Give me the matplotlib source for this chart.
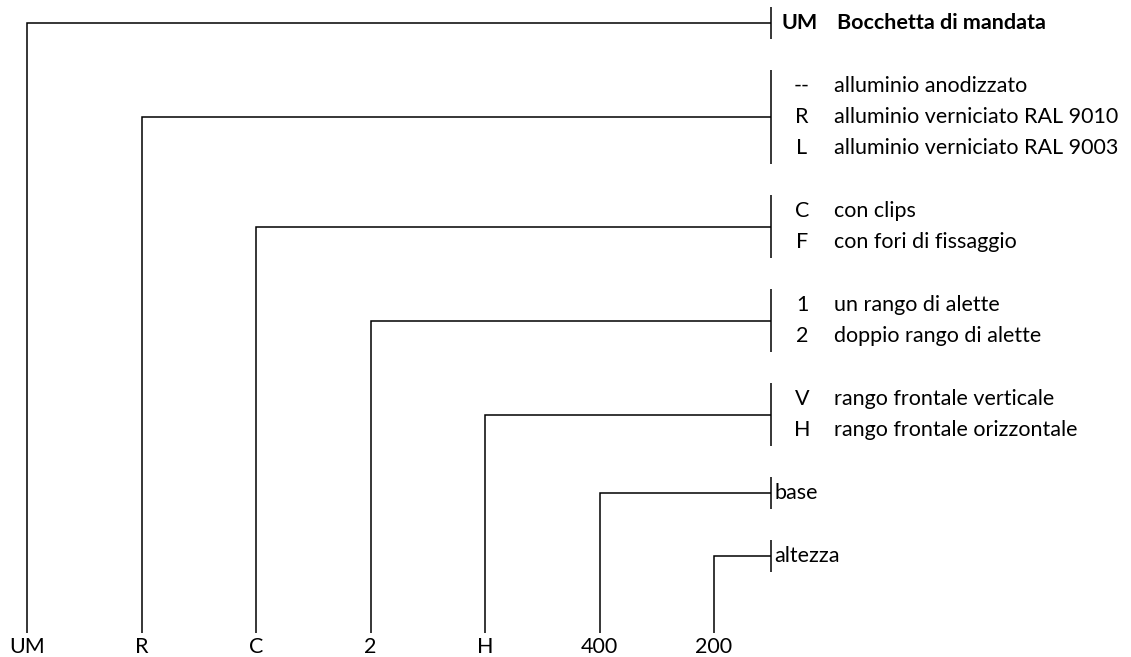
import matplotlib
matplotlib.use("Agg")
import matplotlib.pyplot as plt

# ---- data ----
selected_codes = ["UM", "R", "C", "2", "H", "400", "200"]
group_codes = [
    ["UM"],
    ["--", "R", "L"],
    ["C", "F"],
    ["1", "2"],
    ["V", "H"],
    [""],
    [""],
]
group_descriptions = [
    ["Bocchetta di mandata"],
    ["alluminio anodizzato", "alluminio verniciato RAL 9010", "alluminio verniciato RAL 9003"],
    ["con clips", "con fori di fissaggio"],
    ["un rango di alette", "doppio rango di alette"],
    ["rango frontale verticale", "rango frontale orizzontale"],
    ["base"],
    ["altezza"],
]

# ---- layout (pixel space) ----
W, H = 1131, 657
fig = plt.figure(figsize=(W / 100, H / 100), dpi=100)
ax = fig.add_axes([0, 0, 1, 1])
ax.set_xlim(0, W)
ax.set_ylim(H, 0)
ax.axis("off")

FONT = ["Lato", "DejaVu Sans"]

# fit font size so a reference string has the width seen in the original
renderer = fig.canvas.get_renderer()
probe = ax.text(0, 0, "con fori di fissaggio", fontsize=12, family=FONT)
wpx = probe.get_window_extent(renderer).width
probe.remove()
FS = 12 * 182.0 / wpx

stem_x0, stem_dx = 27, 114.5
stem_bottom = 633
bar_x = 771
code_x = 802
desc_x = 834
row_step = 31
group_gap = 63
half = 16
lw = 1.1

y = 23
for gi, (codes, descs) in enumerate(zip(group_codes, group_descriptions)):
    rows = []
    for ri in range(len(codes)):
        if ri > 0:
            y += row_step
        rows.append(y)
    mid = (rows[0] + rows[-1]) / 2
    sx = stem_x0 + gi * stem_dx
    ax.plot([sx, sx, bar_x], [stem_bottom, mid, mid], color="black", lw=lw,
            solid_joinstyle="miter", solid_capstyle="butt")
    ax.plot([bar_x, bar_x], [rows[0] - half, rows[-1] + half], color="black", lw=lw,
            solid_capstyle="butt")
    ax.text(sx, 647, selected_codes[gi], ha="center", va="center", fontsize=FS,
            family=FONT)
    for c, d, ry in zip(codes, descs, rows):
        bold = gi == 0
        if c:
            ax.text(800 if bold else code_x, ry, c, ha="center", va="center",
                    fontsize=FS, family=FONT, fontweight="bold" if bold else "normal")
            ax.text(837 if bold else desc_x, ry, d, ha="left", va="center",
                    fontsize=FS, family=FONT, fontweight="bold" if bold else "normal")
        else:
            ax.text(bar_x + 3, ry, d, ha="left", va="center", fontsize=FS, family=FONT)
    y += group_gap

fig.savefig("out.png", dpi=100)
